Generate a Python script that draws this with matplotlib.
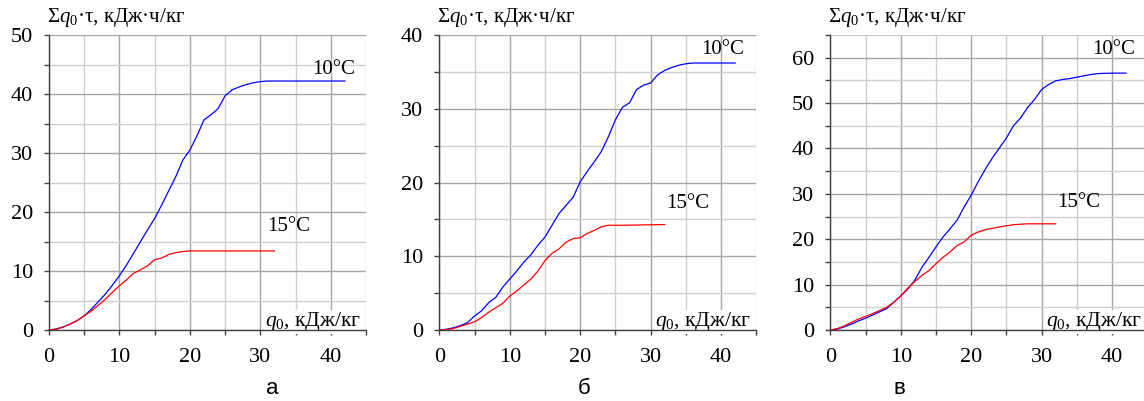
import matplotlib
matplotlib.use('Agg')
import matplotlib.pyplot as plt
from matplotlib.ticker import MultipleLocator

plt.rcParams['font.family'] = ['Liberation Serif', 'DejaVu Serif']
plt.rcParams['mathtext.fontset'] = 'custom'
plt.rcParams['mathtext.rm'] = 'Liberation Serif'
plt.rcParams['mathtext.it'] = 'Liberation Serif:italic'

# ---- data ----
a_x10 = [0, 1, 2, 3, 4, 5, 6, 7, 8, 9, 10, 11, 12, 13, 14, 15, 16, 17, 18, 19, 20,
         21, 22, 23, 24, 25, 26, 27, 28, 29, 30, 31, 42]
a_y10 = [0, 0.15, 0.5, 1.0, 1.6, 2.4, 3.5, 4.8, 6.1, 7.6, 9.2, 11.0, 13.0, 15.0, 17.0,
         18.9, 21.2, 23.6, 26.0, 28.8, 30.5, 32.9, 35.6, 36.5, 37.5, 39.7, 40.7, 41.2,
         41.6, 41.9, 42.1, 42.2, 42.2]
a_x15 = [0, 1, 2, 3, 4, 5, 6, 7, 8, 9, 10, 11, 12, 13, 14, 15, 16, 17, 18, 19, 20, 32]
a_y15 = [0, 0.15, 0.5, 1.0, 1.6, 2.4, 3.2, 4.2, 5.2, 6.4, 7.5, 8.5, 9.6, 10.2, 10.9,
         11.9, 12.2, 12.8, 13.1, 13.3, 13.4, 13.4]

b_x10 = [0, 1, 2, 3, 4, 5, 6, 7, 8, 9, 10, 11, 12, 13, 14, 15, 16, 17, 18, 19, 20,
         21, 22, 23, 24, 25, 26, 27, 28, 29, 30, 31, 32, 33, 34, 35, 36, 42]
b_y10 = [0, 0.1, 0.3, 0.6, 1.0, 1.9, 2.6, 3.7, 4.4, 5.8, 6.9, 8.0, 9.2, 10.2, 11.5,
         12.6, 14.2, 15.8, 16.9, 18.0, 20.1, 21.5, 22.8, 24.2, 26.2, 28.5, 30.2, 30.8,
         32.6, 33.2, 33.5, 34.6, 35.2, 35.6, 35.9, 36.1, 36.2, 36.2]
b_x15 = [0, 1, 2, 3, 4, 5, 6, 7, 8, 9, 10, 11, 12, 13, 14, 15, 16, 17, 18, 19, 20,
         21, 22, 23, 24, 26, 32]
b_y15 = [0, 0.05, 0.2, 0.5, 0.8, 1.1, 1.7, 2.4, 3.0, 3.6, 4.6, 5.3, 6.1, 6.9, 8.0,
         9.4, 10.4, 11.0, 11.9, 12.4, 12.5, 13.1, 13.5, 14.0, 14.2, 14.2, 14.3]

c_x10 = [0, 1, 2, 3, 4, 5, 6, 7, 8, 9, 10, 11, 12, 13, 14, 15, 16, 17, 18, 19, 20,
         21, 22, 23, 24, 25, 26, 27, 28, 29, 30, 31, 32, 33, 34, 35, 36, 37, 38, 40, 42]
c_y10 = [0, 0.2, 0.7, 1.3, 2.0, 2.6, 3.3, 4.0, 4.7, 6.1, 7.5, 9.0, 11.0, 13.8, 16.0,
         18.3, 20.5, 22.3, 24.2, 27.1, 29.7, 32.7, 35.4, 37.9, 40.1, 42.3, 45.0, 46.7,
         49.0, 50.8, 53.0, 54.1, 54.9, 55.2, 55.4, 55.7, 56.0, 56.3, 56.5, 56.6, 56.6]
c_x15 = [0, 1, 2, 3, 4, 5, 6, 7, 8, 9, 10, 11, 12, 13, 14, 15, 16, 17, 18, 19, 20,
         21, 22, 24, 26, 28, 32]
c_y15 = [0, 0.3, 0.9, 1.7, 2.4, 3.0, 3.6, 4.3, 5.0, 6.1, 7.5, 9.2, 10.7, 12.0, 13.1,
         14.6, 16.0, 17.2, 18.6, 19.4, 20.9, 21.6, 22.1, 22.7, 23.2, 23.4, 23.4]

ymaxs = [50, 40, 65]
panel_letters = ['а', 'б', 'в']
label10 = '10°C'
label15 = '15°C'
ylabel = 'Σ$q_0$·τ, кДж·ч/кг'
xlabel = '$q_0$, кДж/кг'

panels = [(a_x10, a_y10, a_x15, a_y15), (b_x10, b_y10, b_x15, b_y15),
          (c_x10, c_y10, c_x15, c_y15)]

W, H = 1144, 401
fig = plt.figure(figsize=(W / 100, H / 100), dpi=100)

lefts_px = [49, 439.3, 830.3]
width_px = 317
bottom_px = 71
height_px = 295
letter_x_px = [272, 584, 899]
# label positions (data coords)
t10_pos = [(43.5, 42.6), (43.3, 36.7), (43.3, 59.8)]
t15_pos = [(31.0, 16.0), (32.2, 15.9), (32.2, 26.0)]

for i, (x10, y10, x15, y15) in enumerate(panels):
    ax = fig.add_axes([lefts_px[i] / W, bottom_px / H, width_px / W, height_px / H])
    ax.set_xlim(0, 45)
    ax.set_ylim(0, ymaxs[i])
    ax.xaxis.set_major_locator(MultipleLocator(10))
    ax.xaxis.set_minor_locator(MultipleLocator(5))
    ax.yaxis.set_major_locator(MultipleLocator(10))
    ax.yaxis.set_minor_locator(MultipleLocator(5))
    ax.grid(which='major', color='#a6a6a6', linewidth=1.0)
    ax.grid(which='minor', color='#cfcfcf', linewidth=1.0)
    ax.set_axisbelow(True)
    for s in ['top', 'right']:
        ax.spines[s].set_visible(False)
    for s in ['left', 'bottom']:
        ax.spines[s].set_color('#404040')
        ax.spines[s].set_linewidth(1.0)
        ax.spines[s].set_zorder(5)
    ax.tick_params(which='both', direction='out', length=3.6, width=1.0,
                   color='#404040', labelsize=16)
    ax.tick_params(axis='x', which='both', pad=9.5)
    ax.tick_params(axis='y', which='both', pad=8.0)

    ax.plot(x10, y10, color='#0000ff', linewidth=0.9, clip_on=False, zorder=3)
    ax.plot(x15, y15, color='#ff0000', linewidth=0.9, clip_on=False, zorder=3)

    ax.text(t10_pos[i][0], t10_pos[i][1], label10, ha='right', va='bottom', fontsize=15)
    ax.text(t15_pos[i][0], t15_pos[i][1], label15, ha='left', va='bottom', fontsize=15)
    ax.text(0.985, 0.012, xlabel, transform=ax.transAxes, ha='right', va='baseline',
            fontsize=15.5, zorder=4,
            bbox=dict(facecolor='white', edgecolor='none', pad=0.3))
    fig.text((lefts_px[i] - 2) / W, (H - 22) / H, ylabel, ha='left', va='baseline',
             fontsize=15)
    fig.text(letter_x_px[i] / W, 13 / H, panel_letters[i], ha='center', va='center',
             fontsize=16, family=['Liberation Sans', 'DejaVu Sans'])

fig.savefig('out.png', dpi=100)
